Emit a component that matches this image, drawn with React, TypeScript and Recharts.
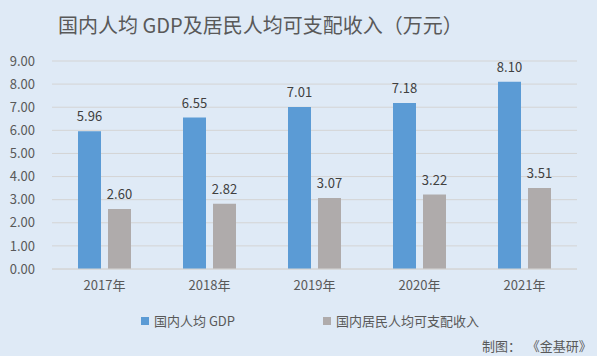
import React from "react";
import { BarChart, Bar, XAxis, YAxis, CartesianGrid, LabelList } from "recharts";

const years = ["2017年", "2018年", "2019年", "2020年", "2021年"];
const gdpPerCapita = [5.96, 6.55, 7.01, 7.18, 8.1];
const incomePerCapita = [2.6, 2.82, 3.07, 3.22, 3.51];
const yTicks = [0, 1, 2, 3, 4, 5, 6, 7, 8, 9];

const data = years.map((year, i) => ({
  year,
  gdp: gdpPerCapita[i],
  income: incomePerCapita[i],
}));

const FONT = '"Noto Sans CJK SC", "Noto Sans", sans-serif';
const TEXT = "#595959";

const legendItems = [
  { label: "国内人均 GDP", color: "#5b9bd5" },
  { label: "国内居民人均可支配收入", color: "#afabab" },
];

export default function App() {
  return (
    <div
      style={{
        position: "absolute",
        left: 0,
        top: 0,
        width: 597,
        height: 356,
        background: "#dfeaf6",
        fontFamily: FONT,
      }}
    >
      {/* title */}
      <div style={{ position: "absolute", left: 58, top: 10, fontSize: 20, color: TEXT, whiteSpace: "nowrap" }}>
        国内人均 GDP及居民人均可支配收入（万元）
      </div>

      <BarChart
        width={597}
        height={356}
        data={data}
        margin={{ top: 61, right: 20, bottom: 57, left: 0 }}
        barGap={7}
      >
        <CartesianGrid vertical={false} stroke="#d4d4d4" />
        <XAxis
          dataKey="year"
          height={30}
          tickLine={false}
          stroke="#d4d4d4"
          tickSize={0}
          tickMargin={12}
          tick={{ fill: TEXT, fontSize: 13 }}
        />
        <YAxis
          domain={[0, 9]}
          ticks={yTicks}
          interval={0}
          width={52}
          axisLine={false}
          tickLine={false}
          tickSize={0}
          tickMargin={17}
          tick={{ fill: TEXT, fontSize: 13 }}
          tickFormatter={(v) => v.toFixed(2)}
        />
        <Bar dataKey="gdp" fill="#5b9bd5" barSize={23} isAnimationActive={false}>
          <LabelList dataKey="gdp" position="top" offset={10} fill="#404040" fontSize={13} formatter={(v) => Number(v).toFixed(2)} />
        </Bar>
        <Bar dataKey="income" fill="#afabab" barSize={23} isAnimationActive={false}>
          <LabelList dataKey="income" position="top" offset={10} fill="#404040" fontSize={13} formatter={(v) => Number(v).toFixed(2)} />
        </Bar>
      </BarChart>

      {/* legend */}
      <div
        style={{
          position: "absolute",
          top: 311,
          left: 141,
          display: "flex",
          gap: 88,
          fontSize: 13,
          color: TEXT,
          whiteSpace: "nowrap",
        }}
      >
        {legendItems.map((item) => (
          <div key={item.label} style={{ display: "flex", alignItems: "center" }}>
            <span style={{ width: 8, height: 8, background: item.color, marginRight: 5, display: "inline-block" }} />
            {item.label}
          </div>
        ))}
      </div>

      <div style={{ position: "absolute", left: 482, top: 336, fontSize: 13, color: TEXT, whiteSpace: "pre" }}>
        制图：  《金基研》
      </div>
    </div>
  );
}
